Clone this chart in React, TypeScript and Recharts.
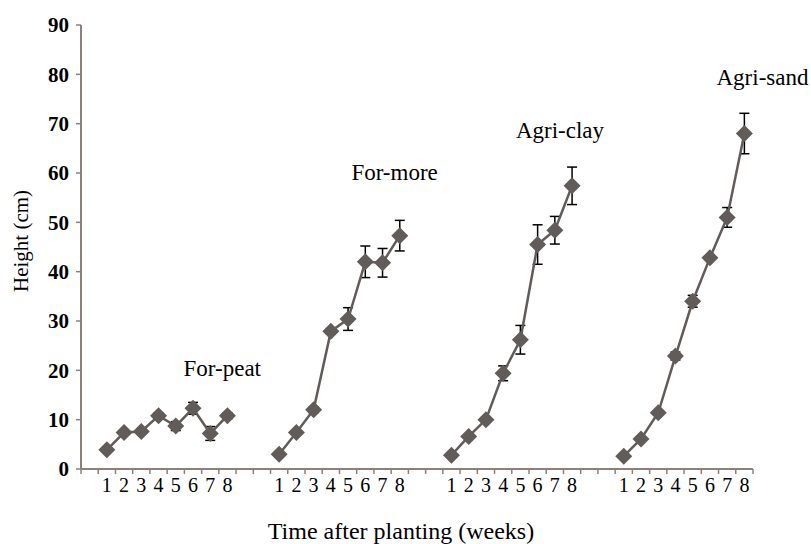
import { LineChart, Line, XAxis, YAxis, ErrorBar, ReferenceDot, Label } from "recharts";

const FONT = "Times New Roman, Times, Liberation Serif, DejaVu Serif, serif";
const INK = "#000000";
const AXIS = "#8c817a";
const SERIES = "#615c59";

// one category slot per week, with blank slots between the substrate groups
const SLOT_COUNT = 39;
const WEEKS = [1, 2, 3, 4, 5, 6, 7, 8];
const GROUP_START = [1, 11, 21, 31];
const Y_TICKS = [0, 10, 20, 30, 40, 50, 60, 70, 80, 90];

const FOR_PEAT = [3.9, 7.4, 7.6, 10.8, 8.7, 12.3, 7.2, 10.8];
const FOR_PEAT_ERR = [0.4, 0.4, 0.4, 0.6, 0.9, 1.2, 1.4, 0.6];
const FOR_MORE = [3.0, 7.4, 12.0, 27.9, 30.4, 42.0, 41.8, 47.3];
const FOR_MORE_ERR = [0.3, 0.4, 0.6, 0.5, 2.3, 3.2, 2.9, 3.1];
const AGRI_CLAY = [2.8, 6.6, 10.0, 19.4, 26.2, 45.5, 48.4, 57.4];
const AGRI_CLAY_ERR = [0.3, 0.4, 0.5, 1.5, 2.9, 4.0, 2.8, 3.8];
const AGRI_SAND = [2.6, 6.1, 11.4, 22.9, 34.0, 42.8, 51.0, 68.0];
const AGRI_SAND_ERR = [0.3, 0.4, 0.4, 0.8, 1.2, 0.5, 2.0, 4.1];

const series = [
  { name: "For-peat", values: FOR_PEAT, errs: FOR_PEAT_ERR },
  { name: "For-more", values: FOR_MORE, errs: FOR_MORE_ERR },
  { name: "Agri-clay", values: AGRI_CLAY, errs: AGRI_CLAY_ERR },
  { name: "Agri-sand", values: AGRI_SAND, errs: AGRI_SAND_ERR },
].map((s, g) => ({
  ...s,
  data: WEEKS.map((w, i) => ({ slot: GROUP_START[g] + i + 0.5, week: w, h: s.values[i], err: s.errs[i] })),
}));

const weekAt: Record<string, number> = {};
series.forEach((s) => s.data.forEach((d) => (weekAt[String(d.slot)] = d.week)));

const boundaryTicks = Array.from({ length: SLOT_COUNT + 1 }, (_, i) => i);
const labelTicks = series.flatMap((s) => s.data.map((d) => d.slot));
const xTicks = [...boundaryTicks, ...labelTicks];

function WeekTick({ x, y, payload }: any) {
  const v = payload.value;
  if (Number.isInteger(v)) {
    return <line x1={x} y1={y} x2={x} y2={y + 5} stroke={AXIS} strokeWidth={1.5} />;
  }
  return (
    <text x={x} y={y + 23} textAnchor="middle" fontFamily={FONT} fontSize={20} fill={INK}>
      {weekAt[String(v)]}
    </text>
  );
}

function Diamond({ cx, cy }: any) {
  if (cx == null || cy == null) return null;
  const r = 8.5;
  return <path d={`M${cx},${cy - r}L${cx + r},${cy}L${cx},${cy + r}L${cx - r},${cy}Z`} fill={SERIES} />;
}

export default function App() {
  return (
    <div style={{ position: "absolute", left: 0, top: 0, background: "#fff" }}>
      <LineChart width={811} height={544} margin={{ top: 25, right: 58, left: 0, bottom: 0 }}>
        <XAxis
          type="number"
          dataKey="slot"
          domain={[0, SLOT_COUNT]}
          ticks={xTicks}
          interval={0}
          tick={<WeekTick />}
          tickLine={false}
          tickSize={0}
          tickMargin={0}
          height={75}
          axisLine={{ stroke: AXIS, strokeWidth: 2 }}
        >
          <Label value="Time after planting (weeks)" position="insideBottom" offset={5} dx={-16} fontFamily={FONT} fontSize={24} fill={INK} />
        </XAxis>
        <YAxis
          domain={[0, 90]}
          ticks={Y_TICKS}
          interval={0}
          width={81}
          tickSize={5}
          tickMargin={7}
          tick={{ fontFamily: FONT, fontSize: 21, fontWeight: "bold", fill: INK }}
          tickLine={{ stroke: AXIS, strokeWidth: 1.5 }}
          axisLine={{ stroke: AXIS, strokeWidth: 2 }}
        >
          <Label value="Height (cm)" angle={-90} position="center" dx={-20} dy={-6} fontFamily={FONT} fontSize={21} fill={INK} />
        </YAxis>
        {series.map((s) => (
          <Line
            key={s.name}
            data={s.data}
            dataKey="h"
            stroke={SERIES}
            strokeWidth={2.5}
            dot={(p: any) => <Diamond key={p.key ?? `${s.name}-${p.index}`} cx={p.cx} cy={p.cy} />}
            activeDot={false}
            isAnimationActive={false}
          >
            <ErrorBar dataKey="err" stroke={INK} strokeWidth={1.5} width={5} />
          </Line>
        ))}
        <ReferenceDot x={8.2} y={20.5} r={0} ifOverflow="visible" fill="none" stroke="none">
          <Label value="For-peat" position="center" fontFamily={FONT} fontSize={23} fill={INK} />
        </ReferenceDot>
        <ReferenceDot x={18.2} y={60.2} r={0} ifOverflow="visible" fill="none" stroke="none">
          <Label value="For-more" position="center" fontFamily={FONT} fontSize={23} fill={INK} />
        </ReferenceDot>
        <ReferenceDot x={27.8} y={68.7} r={0} ifOverflow="visible" fill="none" stroke="none">
          <Label value="Agri-clay" position="center" fontFamily={FONT} fontSize={23} fill={INK} />
        </ReferenceDot>
        <ReferenceDot x={39.55} y={79.5} r={0} ifOverflow="visible" fill="none" stroke="none">
          <Label value="Agri-sand" position="center" fontFamily={FONT} fontSize={23} fill={INK} />
        </ReferenceDot>
      </LineChart>
    </div>
  );
}
